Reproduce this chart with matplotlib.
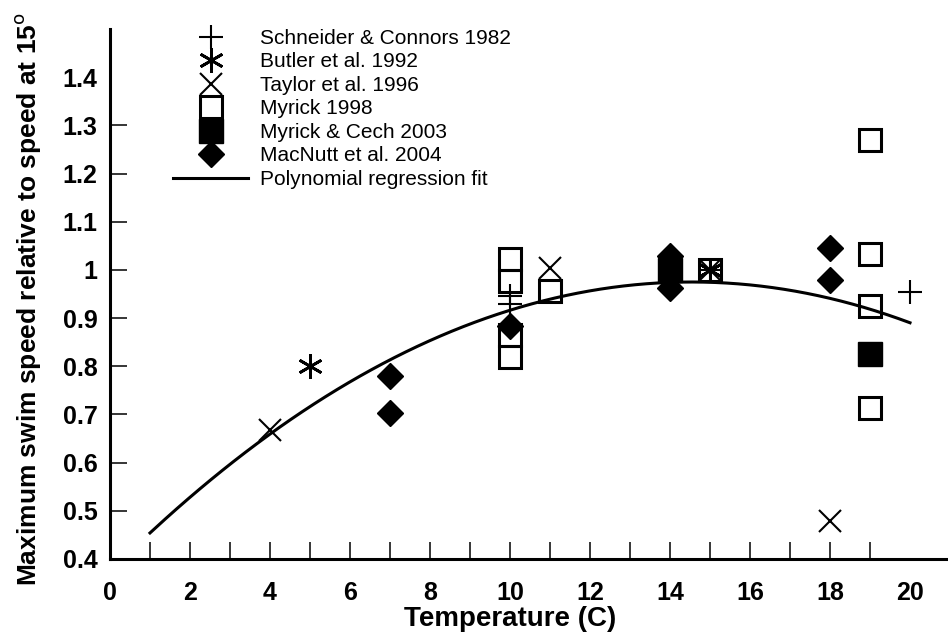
import numpy as np
import matplotlib
matplotlib.use("Agg")
import matplotlib.pyplot as plt

plt.rcParams['font.family'] = ['Liberation Sans', 'DejaVu Sans']

# ---- data ----
schneider_x = [10, 10, 15, 20]
schneider_y = [0.945, 0.930, 1.000, 0.955]

butler_x = [5, 15]
butler_y = [0.800, 1.000]

taylor_x = [4, 11, 15, 18]
taylor_y = [0.668, 1.005, 1.000, 0.479]

myrick98_x = [10, 10, 10, 10, 11, 15, 19, 19, 19, 19]
myrick98_y = [1.022, 0.977, 0.865, 0.820, 0.957, 1.000, 1.270, 1.034, 0.926, 0.713]

cech_x = [14, 19]
cech_y = [1.000, 0.825]

macnutt_x = [7, 7, 10, 14, 14, 18, 18]
macnutt_y = [0.779, 0.704, 0.883, 1.028, 0.963, 1.046, 0.980]

# polynomial regression fit (quadratic coefficients, highest power first) and its x span
fit_coeffs = [-0.00284, 0.0826, 0.3743]
fit_xrange = [1, 20]

x_ticklabels = [0, 2, 4, 6, 8, 10, 12, 14, 16, 18, 20]
y_ticklabels = [0.4, 0.5, 0.6, 0.7, 0.8, 0.9, 1, 1.1, 1.2, 1.3, 1.4]

# ---- figure ----
fig = plt.figure(figsize=(9.48, 6.38), dpi=100)
ax = fig.add_axes([110 / 948, 1 - 559 / 638, 1 - 110 / 948, (559 - 29) / 638])

xf = np.linspace(fit_xrange[0], fit_xrange[1], 200)
ax.plot(xf, np.polyval(fit_coeffs, xf), color='black', lw=2.2, zorder=2,
        label='Polynomial regression fit')

common = dict(linestyle='none', color='black', zorder=3)
h1, = ax.plot(schneider_x, schneider_y, marker='+', ms=17, mew=1.5,
              label='Schneider & Connors 1982', **common)
h2, = ax.plot(butler_x, butler_y, marker=(6, 2, 0), ms=18, mew=2.0,
              label='Butler et al. 1992', **common)
h3, = ax.plot(taylor_x, taylor_y, marker='x', ms=16, mew=1.5,
              label='Taylor et al. 1996', **common)
h4, = ax.plot(myrick98_x, myrick98_y, marker='s', ms=16, mew=2.2,
              mfc='none', label='Myrick 1998', **common)
h5, = ax.plot(cech_x, cech_y, marker='s', ms=17, mew=1,
              label='Myrick & Cech 2003', **common)
h6, = ax.plot(macnutt_x, macnutt_y, marker='D', ms=13.5, mew=1,
              label='MacNutt et al. 2004', **common)

ax.set_xlim(0, (948 - 110) / 40)
ax.set_ylim(0.4, 1.5)

ax.xaxis.remove_overlapping_locs = False
ax.yaxis.remove_overlapping_locs = False

ax.set_xticks(x_ticklabels)
ax.set_xticklabels([str(v) for v in x_ticklabels])
ax.set_yticks(y_ticklabels)
ax.set_yticklabels([('%g' % v) for v in y_ticklabels])
ax.tick_params(axis='both', which='major', length=0, labelsize=18, pad=16)
ax.tick_params(axis='y', pad=9)
for lab in ax.get_xticklabels() + ax.get_yticklabels():
    lab.set_fontweight('bold')

ax.set_xticks(list(range(1, 20)), minor=True)
ax.set_yticks([0.5, 0.6, 0.7, 0.8, 0.9, 1.0, 1.1, 1.2, 1.3], minor=True)
ax.tick_params(axis='both', which='minor', direction='in', length=12, width=1.1)

for s in ['top', 'right']:
    ax.spines[s].set_visible(False)
for s in ['left', 'bottom']:
    ax.spines[s].set_linewidth(2.2)

ax.set_xlabel('Temperature (C)', fontsize=20, fontweight='bold')
ax.xaxis.set_label_coords((510 - 110) / 838, -(632 - 559) / 530)
ax.xaxis.label.set_va('bottom')
ax.set_ylabel('Maximum swim speed relative to speed at 15$^{\\mathrm{o}}$',
              fontsize=19, fontweight='bold')
ax.yaxis.set_label_coords((43 - 110) / 838, 0.49)

handles = [h1, h2, h3, h4, h5, h6, ax.lines[0]]
leg = ax.legend(handles=handles, loc='upper left',
                bbox_to_anchor=(173 / 948, 1 - 29 / 638),
                bbox_transform=fig.transFigure, frameon=False,
                fontsize=15, handlelength=3.6, handletextpad=0.58,
                labelspacing=0.215, borderpad=0, borderaxespad=0, numpoints=1)

fig.savefig('out.png', dpi=100)
